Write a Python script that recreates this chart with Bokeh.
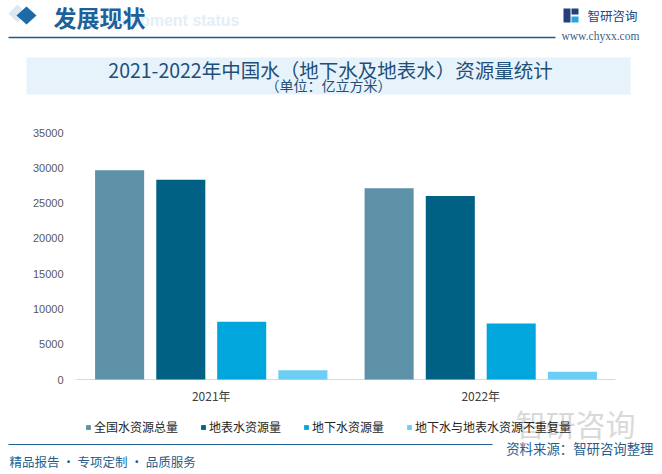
from bokeh.plotting import figure
from bokeh.models import Range1d, ColumnDataSource, Label, Legend, LegendItem
from bokeh.core.properties import value
from bokeh.transform import dodge
from bokeh.embed import file_html
from bokeh.resources import INLINE

# ---------------- data ----------------
years = ["2021年", "2022年"]
series = ["全国水资源总量", "地表水资源量", "地下水资源量", "地下水与地表水资源不重复量"]
total = [29638.2, 27088.1]
surface = [28310.5, 25984.4]
ground = [8195.7, 7924.4]
nonoverlap = [1327.7, 1103.7]
y_ticks = [0, 5000, 10000, 15000, 20000, 25000, 30000, 35000]
y_tick_labels = [str(t) for t in y_ticks]

title_text = "2021-2022年中国水（地下水及地表水）资源量统计"
subtitle_text = "（单位：亿立方米）"

colors = ["#5d91a7", "#006184", "#00a6dc", "#6ccdf5"]
CJK = "Noto Sans CJK SC"

# ---------------- layout (page pixels) ----------------
W, H = 662, 474
FL, FR, FT, FB = 76, 615, 132, 379          # plotting area of the bar chart
YMAX = y_ticks[-1]
UX = (FR - FL) / len(years)                 # px per category
UY = YMAX / (FB - FT)                       # value per px
x0 = -FL / UX
x1 = x0 + W / UX
y1 = YMAX + FT * UY
y0 = y1 - H * UY


def X(px):
    return x0 + px / UX


def Y(py):
    return y1 - py * UY


p = figure(width=W, height=H, x_range=Range1d(x0, x1), y_range=Range1d(y0, y1),
           output_backend="svg", toolbar_location=None, min_border=0,
           x_axis_location=None, y_axis_location=None)
p.grid.visible = False
p.outline_line_color = None
p.background_fill_color = "white"
p.border_fill_color = "white"


def label(x, y, text, size, color, font=CJK, align="left", style="normal"):
    p.add_layout(Label(x=X(x), y=Y(y), text=text, text_font=font, text_font_size=size,
                       text_color=color, text_align=align, text_baseline="middle",
                       text_font_style=style))


def box(l, r, t, b, c):
    p.quad(left=[X(l)], right=[X(r)], top=[Y(t)], bottom=[Y(b)], fill_color=c,
           line_color=None)


# ---------------- header ----------------
label(239, 20, "Development status", "16px", "#e4eef7", font="Liberation Sans",
      align="right", style="bold")
p.patch(x=[X(v) for v in (8, 17, 26, 17)], y=[Y(v) for v in (13, 4, 13, 22)],
        fill_color="#dce9f4", line_color=None)
p.patch(x=[X(v) for v in (16, 26, 36, 26)], y=[Y(v) for v in (15, 6, 15, 24)],
        fill_color="#1d6aa5", line_color=None)
label(53, 16, "发展现状", "23px", "#1e6098", style="bold")
box(8, 555, 36.3, 37.7, "#1e5b88")

# logo
box(563, 570, 8, 22, "#23407a")
box(571, 578, 8, 14, "#23407a")
box(571, 578, 16, 22, "#2aa4dd")
label(587, 15, "智研咨询", "12.5px", "#23467d")
label(561, 35, "www.chyxx.com", "11.5px", "#3a5f86", font="Liberation Serif")

# title box
box(26, 630, 57, 94, "#e6f3fb")
label(330, 69, title_text, "19.5px", "#1f4e79", align="center")
label(328, 84, subtitle_text, "14px", "#1f4e79", align="center")

# ---------------- bar chart ----------------
xi = [i + 0.5 for i in range(len(years))]   # category centres
src = ColumnDataSource(dict(xi=xi, year=years, total=total, surface=surface,
                            ground=ground, nonoverlap=nonoverlap))

# baseline (x axis line)
p.segment(x0=[0], y0=[0], x1=[len(years)], y1=[0], line_color="#d9d9d9", line_width=1)

offsets = [-0.34, -0.113, 0.113, 0.34]
cols = ["total", "surface", "ground", "nonoverlap"]
items = []
for off, col, c, name in zip(offsets, cols, colors, series):
    r = p.vbar(x=dodge("xi", off), top=col, width=0.182, bottom=0,
               source=src, fill_color=c, line_color=None)
    items.append(LegendItem(label=name, renderers=[r]))

# y tick labels
p.text(x=[X(63)] * len(y_ticks), y=y_ticks, text=y_tick_labels,
       text_font=value("Liberation Sans"), text_font_size="11px", text_color="#595959",
       text_align="right", text_baseline="middle")
# x category labels
p.text(x=xi, y=[Y(395)] * len(years), text=years, text_font=value(CJK),
       text_font_size="12px", text_color="#404040", text_align="center",
       text_baseline="middle")

# ---------------- footer ----------------
label(515, 422, "智研咨询", "30px", "#d9d9d9")
box(8, 492, 443.5, 444.5, "#1f5f8f")
label(653, 447, "资料来源：智研咨询整理", "13.4px", "#1f5f8f", align="right")
label(9, 461, "精品报告 · 专项定制 · 品质服务", "12.5px", "#1f5f8f")

legend = Legend(items=items, location=(85, 39), orientation="horizontal",
                glyph_width=6, glyph_height=6, label_standoff=3, spacing=22,
                padding=0, margin=0, border_line_color=None, background_fill_alpha=0,
                label_text_font=CJK, label_text_font_size="12px", label_height=12,
                label_text_color="#262626")
p.add_layout(legend, "center")

open("out.html", "w").write(file_html(p, INLINE))
